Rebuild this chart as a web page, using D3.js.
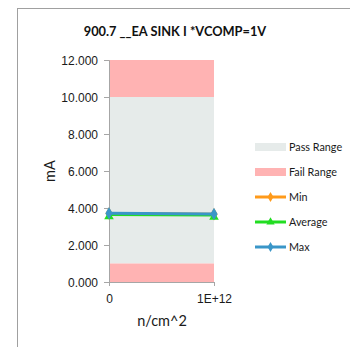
<!DOCTYPE html>
<html><head><meta charset="utf-8">
<script src="https://cdn.jsdelivr.net/npm/d3@7/dist/d3.min.js"></script>
<style>body{margin:0;background:#fff;} svg{display:block;font-family:Lato,"Open Sans",sans-serif;}</style>
</head><body>
<script>
const title = "900.7 __EA SINK I *VCOMP=1V";
const categories = ["0", "1E+12"];
const minVals = [3.70, 3.66];
const avgVals = [3.65, 3.62];
const maxVals = [3.72, 3.68];
const passRange = [1.0, 10.0];
const failRanges = [[0, 1.0], [10.0, 12.0]];
const yTicks = [0, 2, 4, 6, 8, 10, 12];
const legendItems = ["Pass Range", "Fail Range", "Min", "Average", "Max"];

const W = 350, H = 347;
const svg = d3.select("body").append("svg").attr("width", W).attr("height", H);
svg.append("rect").attr("x", 17.5).attr("y", 8.5).attr("width", 340).attr("height", 345)
  .attr("fill", "#fff").attr("stroke", "#a0a0a0").attr("stroke-width", 1);

const x = d3.scalePoint().domain(categories).range([109, 214]);
const y = d3.scaleLinear().domain([0, 12]).range([282, 60]);
const x0 = x.range()[0], x1 = x.range()[1];

// bands
svg.append("rect").attr("x", x0).attr("width", x1 - x0)
  .attr("y", y(passRange[1])).attr("height", y(passRange[0]) - y(passRange[1])).attr("fill", "#e6ebea");
failRanges.forEach(r => svg.append("rect").attr("x", x0).attr("width", x1 - x0)
  .attr("y", y(r[1])).attr("height", y(r[0]) - y(r[1])).attr("fill", "#ffb3b3"));

// axes
const yAxis = d3.axisLeft(y).tickValues(yTicks).tickFormat(d3.format(".3f")).tickSize(5);
const gy = svg.append("g").attr("transform", `translate(${x0},0)`).call(yAxis);
gy.selectAll("path,line").attr("stroke", "#a6a6a6");
gy.selectAll("text").attr("font-size", 12).attr("fill", "#1a1a1a").attr("x", -11).attr("dy", "0.35em");
const xAxis = d3.axisBottom(x).tickSize(4);
const gx = svg.append("g").attr("transform", `translate(0,${y(0)})`).call(xAxis);
gx.select(".domain").attr("d", `M${x0},0.5H${x1}`).attr("stroke", "#a6a6a6");
gx.selectAll("line").attr("stroke", "#a6a6a6");
gx.selectAll("text").attr("font-size", 12).attr("fill", "#1a1a1a").attr("dy", "1.2em");

// series
const series = [
  {name: "Min", vals: minVals, color: "#ff9a1a", marker: "diamond"},
  {name: "Average", vals: avgVals, color: "#22dd22", marker: "triangle"},
  {name: "Max", vals: maxVals, color: "#3a96c8", marker: "diamond"}
];
const line = d3.line().x((d, i) => x(categories[i])).y(d => y(d));
series.forEach(s => {
  svg.append("path").attr("d", line(s.vals)).attr("fill", "none").attr("stroke", s.color).attr("stroke-width", 3);
  const sym = d3.symbol().type(s.marker === "diamond" ? d3.symbolDiamond : d3.symbolTriangle).size(s.marker === "diamond" ? 45 : 40);
  svg.selectAll(null).data(s.vals).enter().append("path")
    .attr("d", sym).attr("fill", s.color)
    .attr("transform", (d, i) => `translate(${x(categories[i])},${y(d) + (s.marker === "triangle" ? 2 : 0)})`);
});

// title & labels
svg.append("text").attr("x", 175).attr("y", 36).attr("text-anchor", "middle")
  .attr("font-size", 12.8).attr("font-weight", "bold").attr("fill", "#111").text(title);
svg.append("text").attr("transform", "translate(55,171) rotate(-90)").attr("text-anchor", "middle")
  .attr("font-size", 14.5).attr("fill", "#1a1a1a").text("mA");
svg.append("text").attr("x", 162).attr("y", 326).attr("text-anchor", "middle")
  .attr("font-size", 14.5).attr("fill", "#1a1a1a").text("n/cm^2");

// legend
const lg = svg.append("g");
const ly = [147, 172, 197, 222, 247];
legendItems.forEach((name, i) => {
  const g = lg.append("g").attr("transform", `translate(0,${ly[i]})`);
  if (i < 2) {
    g.append("rect").attr("x", 255).attr("y", -4).attr("width", 31).attr("height", 8)
      .attr("fill", i === 0 ? "#e6ebea" : "#ffb3b3");
  } else {
    const s = series[i - 2];
    g.append("line").attr("x1", 255).attr("x2", 286).attr("stroke", s.color).attr("stroke-width", 3);
    g.append("path").attr("d", d3.symbol().type(s.marker === "diamond" ? d3.symbolDiamond : d3.symbolTriangle).size(30))
      .attr("fill", s.color).attr("transform", "translate(270.5,0)");
  }
  g.append("text").attr("x", 289).attr("y", 4).attr("font-size", 10.8).attr("fill", "#1a1a1a").text(name);
});
</script>
</body></html>
